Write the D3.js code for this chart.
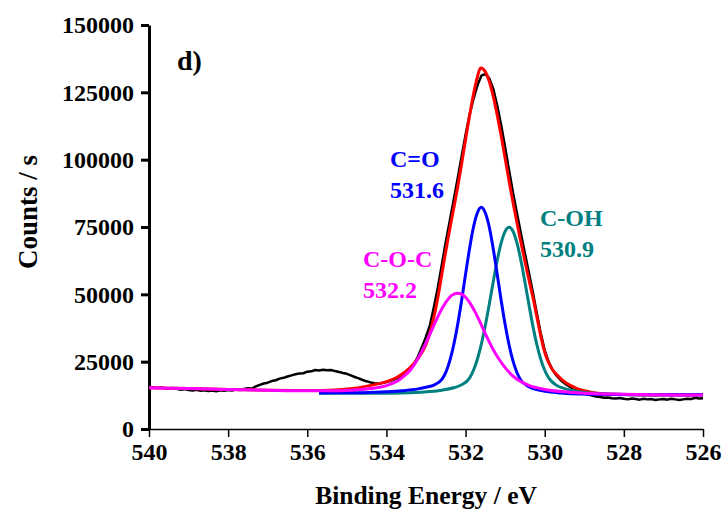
<!DOCTYPE html>
<html>
<head>
<meta charset="utf-8">
<script src="https://cdn.jsdelivr.net/npm/d3@7"></script>
<style>
  html, body { margin: 0; padding: 0; background: #fff; }
  svg { display: block; }
  text { font-family: "Liberation Serif", "Times New Roman", serif; font-weight: bold; }
</style>
</head>
<body>
<svg id="chart" width="722" height="511"></svg>
<script>
// O 1s spectrum: measured counts every 0.1 eV from 540.0 eV down to 526.0 eV
const measuredStart = 540.0;
const measuredStep = 0.1;
const measuredCounts = [
  15300, 15500, 15200, 15400, 15100, 15000, 15200, 14900, 14600, 14800,
  14500, 14300, 14600, 14200, 14400, 14100, 14300, 14000, 14400, 14200,
  14500, 14300, 14700, 14500, 14900, 15100, 15000, 15800, 16400, 16900,
  17200, 17800, 18100, 18700, 19000, 19500, 19900, 20300, 20600, 20700,
  21300, 21400, 21900, 21700, 22000, 21800, 21900, 21500, 21200, 20800,
  20500, 19900, 19300, 18800, 18200, 17700, 17300, 17000, 16900, 17100,
  17400, 17900, 18400, 19000, 19800, 20600, 22000, 24200, 27000, 30500,
  34300, 38600, 45300, 52600, 61000, 69400, 77200, 85000, 93000, 101200,
  109300, 116600, 122600, 127600, 131200, 131800, 130200, 126300, 120000, 112800,
  104500, 96000, 87600, 80000, 72500, 65200, 58000, 50800, 43000, 35500,
  29200, 24900, 21900, 19800, 18200, 17000, 16000, 15200, 14500, 13900,
  13300, 12800, 12400, 12100, 11900, 11600, 11700, 11400, 11300, 11500,
  11200, 11000, 11300, 11100, 10900, 11200, 11000, 11100, 10800, 11000,
  11100, 10900, 11200, 11000, 10800, 11000, 11200, 11100, 11600, 11300,
  11400
];

// Fitted envelope (sum of the components plus background)
const envelopeEnergy = [540, 539, 538, 537, 536, 535.3, 534.8, 534.4, 534.0, 533.7, 533.4, 533.2, 533.0,
  532.9, 532.8, 532.7, 532.6, 532.5, 532.4, 532.3, 532.2, 532.1, 532.0, 531.9, 531.8, 531.7, 531.62,
  531.5, 531.4, 531.3, 531.2, 531.1, 531.0, 530.9, 530.8, 530.7, 530.6, 530.5, 530.4, 530.3, 530.2,
  530.1, 530.0, 529.9, 529.8, 529.7, 529.6, 529.5, 529.4, 529.3, 529.2, 529.0, 528.8, 528.5, 528.0,
  527.5, 527.0, 526.0];
const envelopeCounts = [15300, 15000, 14700, 14400, 14300, 14500, 15100, 16200, 17600, 19500, 22800, 26200, 31400,
  35800, 41600, 48800, 57500, 66000, 74200, 81900, 89800, 98400, 107500, 116300, 124300, 130800, 134000,
  132600, 129000, 123500, 116500, 108800, 100500, 92000, 84000, 76500, 69300, 62300, 55500, 49000, 41800,
  34500, 28500, 24600, 22000, 20200, 18800, 17600, 16600, 15800, 15100, 14200, 13600, 13100, 12800,
  12650, 12600, 12600];

// Fitted components: names, peak binding energies (eV), and line shapes
// tabulated as (offset from the peak energy in eV, counts)
const peakNames = ["C-O-C", "C=O", "C-OH"];
const peakEnergies = [532.2, 531.6, 530.9];

const cocOffsets = [7.8, 6.8, 5.8, 4.8, 3.8, 3.3, 2.7, 2.2, 1.8, 1.5, 1.35, 1.2, 1.05, 0.9, 0.75, 0.6, 0.45, 0.3, 0.15, 0,
  -0.15, -0.3, -0.45, -0.6, -0.75, -0.9, -1.05, -1.2, -1.35, -1.5, -1.8, -2.2, -2.7, -3.2, -4.2, -5.2, -6.2];
const cocCounts = [15300, 15000, 14700, 14400, 14200, 14200, 14400, 15000, 16100, 18000, 19700, 21800, 25000, 29000, 33600, 38500, 43200, 47000, 49600, 50400,
  49600, 47000, 43200, 38600, 33800, 29400, 25800, 22800, 20300, 18500, 16200, 14700, 13800, 13300, 12900, 12700, 12600];

const coOffsets = [4.1, 3.0, 2.4, 2.0, 1.6, 1.4, 1.2, 1.0, 0.9, 0.8, 0.7, 0.6, 0.5, 0.4, 0.3, 0.2, 0.1, 0,
  -0.1, -0.2, -0.3, -0.4, -0.5, -0.6, -0.7, -0.8, -0.9, -1.0, -1.2, -1.4, -1.6, -2.0, -2.5, -3.5, -4.5, -5.6];
const coCounts = [13400, 13500, 13800, 14200, 14900, 15500, 16300, 18400, 21000, 25300, 31200, 38800, 47700, 57500, 66900, 75000, 80300, 82300,
  80200, 74900, 66800, 57400, 47700, 38800, 31200, 25200, 20900, 18100, 15700, 14600, 14000, 13400, 13000, 12800, 12700, 12700];

const cohOffsets = [4.8, 3.5, 2.5, 2.0, 1.7, 1.4, 1.2, 1.0, 0.9, 0.8, 0.7, 0.6, 0.5, 0.4, 0.3, 0.2, 0.1, 0,
  -0.1, -0.2, -0.3, -0.4, -0.5, -0.6, -0.7, -0.8, -0.9, -1.0, -1.2, -1.4, -1.6, -1.9, -2.5, -3.5, -4.9];
const cohCounts = [13300, 13300, 13500, 13900, 14400, 15300, 16400, 18900, 21800, 26000, 31600, 38500, 46400, 54700, 62600, 69100, 73400, 74900,
  73400, 69000, 62500, 54600, 46300, 38300, 31400, 25900, 21800, 19000, 16200, 15000, 14300, 13600, 13000, 12700, 12700];

// Axis ticks and titles
const xTicks = [540, 538, 536, 534, 532, 530, 528, 526];
const yTicks = [0, 25000, 50000, 75000, 100000, 125000, 150000];
const xTitle = "Binding Energy / eV";
const yTitle = "Counts / s";
const panelTag = "d)";

// ---------------------------------------------------------------------------
const svg = d3.select("#chart");
const plot = { left: 149, right: 703, top: 25, bottom: 429 };

const x = d3.scaleLinear().domain([540, 526]).range([plot.left, plot.right]);
const y = d3.scaleLinear().domain([0, 150000]).range([plot.bottom, plot.top]);

const colors = { measured: "#000000", envelope: "#ff0000", coc: "#ff00ff", co: "#0000ff", coh: "#008080" };
const compColors = [colors.coc, colors.co, colors.coh];
const serif = "'Liberation Serif', 'Times New Roman', serif";

const smooth = d3.line().x(d => x(d[0])).y(d => y(d[1])).curve(d3.curveMonotoneX);
const raw = d3.line().x(d => x(d[0])).y(d => y(d[1]));

const measured = measuredCounts.map((c, i) => [measuredStart - i * measuredStep, c]);
const envelope = envelopeEnergy.map((e, i) => [e, envelopeCounts[i]]);
const components = [
  cocOffsets.map((o, i) => [peakEnergies[0] + o, cocCounts[i]]),
  coOffsets.map((o, i) => [peakEnergies[1] + o, coCounts[i]]),
  cohOffsets.map((o, i) => [peakEnergies[2] + o, cohCounts[i]])
];

// Axes
const xAxis = svg.append("g")
  .attr("transform", `translate(0,${plot.bottom})`)
  .call(d3.axisBottom(x).tickValues(xTicks).tickSize(8).tickSizeOuter(0).tickPadding(6).tickFormat(d3.format("d")));
xAxis.select(".domain").attr("stroke", "#000").attr("stroke-width", 1.5);
xAxis.selectAll(".tick line").attr("stroke", "#000").attr("stroke-width", 1.5);
xAxis.selectAll(".tick text").attr("fill", "#000").style("font-size", "24px")
  .style("font-family", serif).style("font-weight", "bold");

const yAxis = svg.append("g")
  .attr("transform", `translate(${plot.left},0)`)
  .call(d3.axisLeft(y).tickValues(yTicks).tickSize(8).tickSizeOuter(0).tickPadding(7).tickFormat(d3.format("d")));
yAxis.select(".domain").attr("stroke", "#000").attr("stroke-width", 3);
yAxis.selectAll(".tick line").attr("stroke", "#000").attr("stroke-width", 3);
yAxis.selectAll(".tick text").attr("fill", "#000").style("font-size", "24px")
  .style("font-family", serif).style("font-weight", "bold");

// Curves: measured data, envelope, then components
svg.append("path").datum(measured).attr("d", raw)
  .attr("fill", "none").attr("stroke", colors.measured).attr("stroke-width", 2.5).attr("stroke-linejoin", "round");
svg.append("path").datum(envelope).attr("d", smooth)
  .attr("fill", "none").attr("stroke", colors.envelope).attr("stroke-width", 3);
[2, 1, 0].forEach(k => {
  svg.append("path").datum(components[k]).attr("d", smooth)
    .attr("fill", "none").attr("stroke", compColors[k]).attr("stroke-width", 3);
});

// Peak annotations: name above, binding energy below
const labelAnchors = [{ x: 363, y: 267 }, { x: 390, y: 167 }, { x: 540, y: 226 }];
peakNames.forEach((name, k) => {
  const g = svg.append("g").attr("fill", compColors[k]).style("font-size", "24px");
  g.append("text").attr("x", labelAnchors[k].x).attr("y", labelAnchors[k].y).text(name);
  g.append("text").attr("x", labelAnchors[k].x).attr("y", labelAnchors[k].y + 31).text(peakEnergies[k].toFixed(1));
});

// Titles
svg.append("text").attr("x", (plot.left + plot.right) / 2).attr("y", 504).attr("text-anchor", "middle")
  .style("font-size", "25.5px").text(xTitle);
svg.append("text").attr("transform", "translate(37,212) rotate(-90)").attr("text-anchor", "middle")
  .style("font-size", "27px").text(yTitle);
svg.append("text").attr("x", 177).attr("y", 70).style("font-size", "28px").text(panelTag);
</script>
</body>
</html>
